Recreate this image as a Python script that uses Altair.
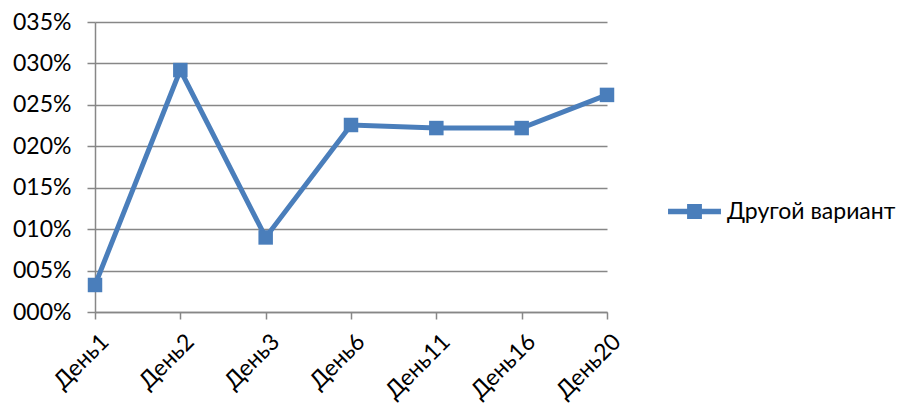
import altair as alt
import pandas as pd

days = ["День1", "День2", "День3", "День6", "День11", "День16", "День20"]
values = [0.0326, 0.292, 0.090, 0.2257, 0.222, 0.222, 0.262]
series = "Другой вариант"

df = pd.DataFrame({"day": days, "value": values, "series": [series] * len(days)})

BLUE = "#4A7EBB"
GRID = "#878787"
FONT = "Lato"
FS = 23

x = alt.X("day:N", sort=days, title=None,
          scale=alt.Scale(type="point", padding=0),
          axis=alt.Axis(labelAngle=-45, labelAlign="right", labelBaseline="top",
                        labelFontSize=FS, labelColor="#000", labelFont=FONT,
                        tickSize=7, tickColor=GRID, domainColor=GRID, domainWidth=1.5,
                        tickWidth=1.5, labelPadding=11, labelOffset=2, grid=False))
y = alt.Y("value:Q", title=None,
          scale=alt.Scale(domain=[0, 0.35], nice=False),
          axis=alt.Axis(format="04.0%", values=[0, 0.05, 0.1, 0.15, 0.2, 0.25, 0.3, 0.35],
                        labelFontSize=FS, labelColor="#000", labelFont=FONT,
                        tickSize=8, tickColor=GRID, domainColor=GRID, domainWidth=1.5,
                        tickWidth=1.5, gridColor=GRID, gridWidth=1.5, labelPadding=16))

line = alt.Chart(df).mark_line(color=BLUE, strokeWidth=5).encode(x=x, y=y)

legend_path = ("M-1,-0.1 L1,-0.1 L1,0.1 L-1,0.1 Z "
               "M-0.28,-0.28 L0.28,-0.28 L0.28,0.28 L-0.28,0.28 Z")

points = alt.Chart(df).mark_point(shape="square", filled=True, size=210, opacity=1).encode(
    x=x, y=y,
    color=alt.Color("series:N", scale=alt.Scale(range=[BLUE]), title=None,
                    legend=alt.Legend(orient="none", legendX=573, legendY=163,
                                      symbolType=legend_path, symbolSize=2800,
                                      symbolFillColor=BLUE, symbolStrokeWidth=0,
                                      symbolOpacity=1,
                                      labelFontSize=FS, labelFont=FONT, labelColor="#000",
                                      labelLimit=400, labelOffset=6)),
)

chart = (line + points).properties(
    width=512, height=290,
    autosize=alt.AutoSizeParams(type="none"),
    padding={"left": 87, "top": 14, "right": 297, "bottom": 96},
).configure_view(stroke=None)

chart.save("out.html", embed_options={"renderer": "svg", "actions": False})
